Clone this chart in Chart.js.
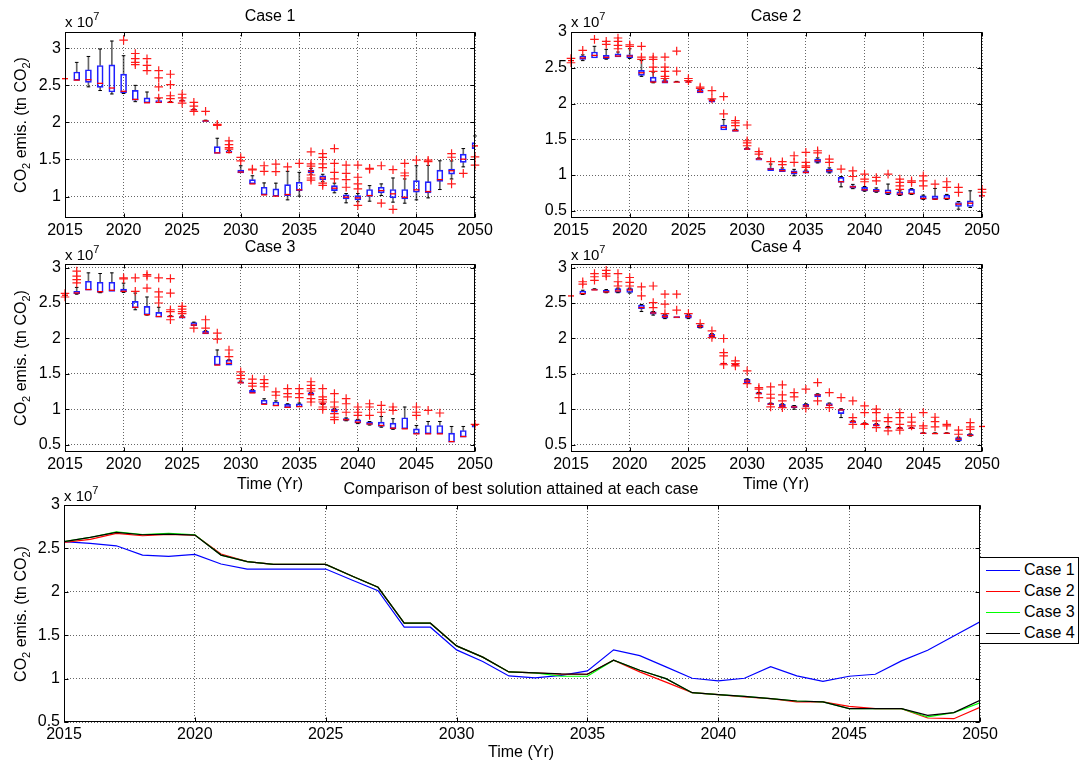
<!DOCTYPE html>
<html><head><meta charset="utf-8">
<script src="https://cdn.jsdelivr.net/npm/chart.js@4/dist/chart.umd.min.js"></script>
<style>
html,body{margin:0;padding:0;background:#fff;}
body{width:1082px;height:762px;position:relative;overflow:hidden;font-family:"Liberation Sans",Arial,Helvetica,sans-serif;color:#000;}
canvas{position:absolute;}
.t{position:absolute;font-size:16px;white-space:nowrap;line-height:1;}
.c{transform:translate(-50%,-50%);}
.yl{transform:translate(-50%,-50%) rotate(-90deg);}
.e{position:absolute;font-size:15px;white-space:nowrap;line-height:1;}
sub{font-size:11px;vertical-align:-4px;line-height:0;}
sup{font-size:11px;vertical-align:7px;line-height:0;}
.lg{position:absolute;left:979px;top:557px;width:100px;height:87px;border:1px solid #000;background:#fff;box-sizing:border-box;}
.ll{position:absolute;height:0;border-top:1px solid;}
.lt{position:absolute;font-size:16px;line-height:1;white-space:nowrap;transform:translateY(-50%);}
</style>
</head><body>
<canvas id="p1"></canvas><canvas id="p2"></canvas><canvas id="p3"></canvas><canvas id="p4"></canvas><canvas id="p5"></canvas>

<div class="t c" style="left:270px;top:16px">Case 1</div>
<div class="t c" style="left:776px;top:16px">Case 2</div>
<div class="t c" style="left:270px;top:247px">Case 3</div>
<div class="t c" style="left:776px;top:247px">Case 4</div>
<div class="t c" style="left:521px;top:489px">Comparison of best solution attained at each case</div>

<div class="e" style="left:65px;top:14px">x 10<sup>7</sup></div>
<div class="e" style="left:571px;top:14px">x 10<sup>7</sup></div>
<div class="e" style="left:65px;top:247px">x 10<sup>7</sup></div>
<div class="e" style="left:571px;top:247px">x 10<sup>7</sup></div>
<div class="e" style="left:64px;top:488px">x 10<sup>7</sup></div>

<div class="t yl" style="left:21px;top:125px">CO<sub>2</sub> emis. (tn CO<sub>2</sub>)</div>
<div class="t yl" style="left:21px;top:358px">CO<sub>2</sub> emis. (tn CO<sub>2</sub>)</div>
<div class="t yl" style="left:21px;top:614px">CO<sub>2</sub> emis. (tn CO<sub>2</sub>)</div>

<div class="t c" style="left:270px;top:484px">Time (Yr)</div>
<div class="t c" style="left:776px;top:484px">Time (Yr)</div>
<div class="t c" style="left:521px;top:752px">Time (Yr)</div>

<div class="lg"></div>
<div class="ll" style="left:986px;top:570px;width:34px;border-color:#0000ff"></div>
<div class="lt" style="left:1024px;top:570px">Case 1</div>
<div class="ll" style="left:986px;top:591px;width:34px;border-color:#ff0000"></div>
<div class="lt" style="left:1024px;top:591px">Case 2</div>
<div class="ll" style="left:986px;top:612px;width:34px;border-color:#00ff00"></div>
<div class="lt" style="left:1024px;top:612px">Case 3</div>
<div class="ll" style="left:986px;top:633px;width:34px;border-color:#000000"></div>
<div class="lt" style="left:1024px;top:633px">Case 4</div>

<script>
// ---------- data (values in units of 1e7 tn CO2) ----------
const years = [2015,2016,2017,2018,2019,2020,2021,2022,2023,2024,2025,2026,2027,2028,2029,2030,2031,2032,
               2033,2034,2035,2036,2037,2038,2039,2040,2041,2042,2043,2044,2045,2046,2047,2048,2049,2050];
const xTickVals = [2015,2020,2025,2030,2035,2040,2045,2050];
const yTicksCase1 = [1,1.5,2,2.5,3];
const yTicksOther = [0.5,1,1.5,2,2.5,3];
const seriesNames = ['Case 1','Case 2','Case 3','Case 4'];

// box stats per year: [lower whisker, q1, median, q3, upper whisker]
const case1Box = [
 [2.59,2.59,2.59,2.59,2.59],[2.567,2.567,2.571,2.68,2.81],[2.48,2.54,2.576,2.71,2.89],[2.43,2.473,2.527,2.768,2.99],
 [2.384,2.41,2.464,2.777,3.098],[2.39,2.397,2.42,2.652,2.90],[2.28,2.30,2.31,2.433,2.50],[2.263,2.263,2.265,2.33,2.41],
 [2.265,2.265,2.27,2.295,2.32],[2.27,2.27,2.27,2.275,2.28],[2.285,2.285,2.29,2.295,2.30],[2.165,2.165,2.17,2.175,2.18],
 [2.01,2.01,2.02,2.025,2.03],[1.58,1.58,1.589,1.674,1.786],[1.594,1.594,1.594,1.616,1.62],[1.317,1.317,1.33,1.357,1.415],
 [1.17,1.17,1.17,1.228,1.28],[1.022,1.022,1.022,1.125,1.183],[1.004,1.004,1.005,1.103,1.18],[0.955,1.013,1.027,1.16,1.34],
 [1.005,1.08,1.09,1.192,1.326],[1.30,1.317,1.34,1.357,1.38],[1.20,1.223,1.25,1.28,1.30],[1.05,1.08,1.112,1.147,1.18],
 [0.915,0.969,0.991,1.022,1.04],[0.93,0.955,0.982,1.013,1.04],[0.937,1.0,1.013,1.094,1.147],[1.013,1.05,1.08,1.125,1.17],
 [0.924,0.982,1.036,1.094,1.25],[0.91,0.969,0.99,1.094,1.237],[0.955,1.058,1.09,1.214,1.415],[0.982,1.05,1.067,1.2,1.42],
 [1.094,1.205,1.228,1.357,1.482],[1.237,1.303,1.348,1.37,1.48],[1.40,1.46,1.504,1.571,1.647],[1.647,1.647,1.683,1.728,1.817]];
const case1Out = [
 [],[],[],[],[],[3.11],[2.93,2.86,2.81,2.78],[2.86,2.77,2.70],[2.70,2.60,2.48,2.33],[2.65,2.51,2.36,2.32],
 [2.38,2.33,2.26],[2.27,2.22,2.15],[2.15],[1.973,1.96],[1.75,1.70,1.66,1.64],[1.527,1.482],[1.37,1.36],[1.415,1.34],
 [1.437,1.335],[1.40],[1.446],[1.603,1.44,1.41,1.29,1.25,1.22],[1.58,1.527,1.44,1.39,1.18,1.15],[1.647,1.446,1.326,1.237],
 [1.424,1.3125,1.228,1.125],[1.424,1.26,1.17,1.103,0.88],[1.38,1.37],[1.415,0.91],[1.362,0.826],[1.446,1.317,1.28],
 [1.49],[1.49,1.47],[],[1.58,1.53,1.17],[1.3125],[1.536,1.424]];

const case2Box = [
 [2.6,2.6,2.6,2.6,2.6],[2.6,2.617,2.636,2.664,2.68],[2.636,2.636,2.673,2.72,2.80],[2.62,2.626,2.645,2.673,2.757],
 [2.65,2.65,2.664,2.696,2.72],[2.63,2.636,2.664,2.682,2.766],[2.38,2.393,2.43,2.463,2.60],[2.29,2.30,2.30,2.369,2.44],
 [2.285,2.285,2.30,2.322,2.33],[2.295,2.295,2.30,2.305,2.31],[2.295,2.295,2.30,2.305,2.31],[2.15,2.15,2.168,2.196,2.20],
 [2.019,2.019,2.04,2.056,2.06],[1.63,1.63,1.668,1.70,1.776],[1.612,1.612,1.62,1.636,1.64],[1.355,1.355,1.364,1.374,1.38],
 [1.21,1.21,1.224,1.234,1.24],[1.061,1.061,1.084,1.098,1.154],[1.047,1.047,1.061,1.084,1.10],[0.99,1.014,1.037,1.061,1.08],
 [1.028,1.028,1.037,1.061,1.07],[1.17,1.178,1.2,1.224,1.24],[1.03,1.037,1.061,1.084,1.10],[0.836,0.897,0.907,0.967,0.98],
 [0.81,0.818,0.836,0.85,0.87],[0.775,0.78,0.794,0.827,0.84],[0.76,0.767,0.78,0.80,0.82],[0.73,0.734,0.757,0.794,0.874],
 [0.715,0.72,0.734,0.767,0.78],[0.73,0.734,0.743,0.80,0.81],[0.66,0.664,0.673,0.71,0.72],[0.66,0.664,0.664,0.71,0.813],
 [0.66,0.664,0.673,0.72,0.73],[0.523,0.561,0.593,0.617,0.63],[0.547,0.561,0.607,0.64,0.78],[0.70,0.70,0.71,0.72,0.72]];
const case2Out = [
 [2.63,2.57],[2.743],[2.897],[2.87,2.827],[2.916,2.87,2.813,2.766],[2.822,2.80],[2.80,2.65,2.617],[2.65,2.617,2.51,2.45],
 [2.65,2.51,2.45,2.38,2.35],[2.734,2.453],[2.35,2.32],[2.23,2.21],[2.18,2.065],[2.098,1.855],[1.762,1.73,1.69],
 [1.70,1.48,1.45,1.41],[1.327,1.294],[1.187],[1.187,1.145],[1.27,1.177],[1.318,1.177,1.13,1.107],[1.34,1.31],
 [1.224,1.178],[1.084],[1.06,0.98],[1.014,0.944,0.907],[0.967,0.92],[1.014],[0.944,0.897,0.85,0.80],[0.92,0.897],
 [0.99,0.92,0.85],[0.874],[0.907,0.827],[0.827,0.757],[],[0.80,0.76]];

const case3Box = [
 [2.61,2.61,2.61,2.61,2.61],[2.625,2.632,2.642,2.665,2.72],[2.68,2.68,2.69,2.807,2.925],[2.645,2.651,2.66,2.793,2.916],
 [2.665,2.665,2.68,2.793,2.925],[2.65,2.656,2.665,2.698,2.78],[2.405,2.43,2.44,2.524,2.64],[2.33,2.335,2.335,2.453,2.585],
 [2.30,2.30,2.31,2.368,2.44],[2.305,2.305,2.31,2.315,2.32],[2.287,2.287,2.30,2.31,2.32],[2.18,2.18,2.19,2.226,2.23],
 [2.065,2.065,2.075,2.10,2.11],[1.625,1.625,1.625,1.753,1.838],[1.625,1.625,1.65,1.696,1.70],[1.37,1.37,1.375,1.39,1.40],
 [1.233,1.233,1.233,1.27,1.28],[1.073,1.073,1.073,1.13,1.15],[1.048,1.048,1.055,1.105,1.12],[1.025,1.025,1.03,1.072,1.08],
 [1.034,1.034,1.04,1.08,1.09],[1.2,1.2,1.21,1.233,1.24],[1.07,1.075,1.08,1.085,1.09],[0.96,0.96,0.987,1.005,1.01],
 [0.84,0.845,0.855,0.87,0.88],[0.80,0.808,0.82,0.855,0.86],[0.78,0.788,0.795,0.82,0.83],[0.75,0.76,0.774,0.82,0.90],
 [0.72,0.727,0.736,0.807,0.87],[0.727,0.727,0.727,0.883,1.034],[0.656,0.656,0.656,0.727,0.774],[0.656,0.656,0.656,0.774,0.83],
 [0.656,0.656,0.656,0.774,0.83],[0.538,0.538,0.547,0.665,0.76],[0.609,0.609,0.618,0.703,0.76],[0.75,0.75,0.78,0.78,0.78]];
const case3Out = [
 [2.635,2.585],[2.95,2.878,2.83,2.783],[],[],[],[2.855,2.84],[2.855,2.665],[2.90,2.878,2.71],[2.855,2.656,2.585,2.50],
 [2.845,2.64,2.405,2.38,2.264],[2.453,2.415,2.38,2.35],[2.145],[2.264,2.145],[2.075,1.99],[1.838,1.743],[1.53,1.48,1.435],
 [1.427,1.366,1.328],[1.42,1.366,1.32],[1.247,1.2],[1.294,1.224,1.176],[1.294,1.224,1.166],[1.39,1.34,1.294,1.26,1.152,1.105],
 [1.294,1.176,1.138,1.105,1.034,1.0],[1.224,1.105,1.034,0.94,0.89,0.855],[1.152,1.08,0.96],[1.034,0.96,0.915],
 [1.08,1.034,0.915],[1.058,0.96],[1.034,0.987],[],[1.034,0.96,0.915],[0.987],[0.95],[],[],[0.79]];

const case4Box = [
 [2.6,2.6,2.6,2.6,2.6],[2.62,2.624,2.633,2.67,2.68],[2.68,2.68,2.685,2.695,2.70],[2.645,2.648,2.657,2.68,2.69],
 [2.645,2.648,2.67,2.704,2.71],[2.64,2.648,2.685,2.704,2.71],[2.38,2.42,2.436,2.47,2.48],[2.33,2.342,2.36,2.375,2.38],
 [2.28,2.286,2.31,2.333,2.34],[2.29,2.29,2.30,2.31,2.31],[2.28,2.286,2.31,2.333,2.34],[2.15,2.154,2.17,2.187,2.19],
 [2.02,2.027,2.04,2.06,2.07],[1.64,1.64,1.647,1.65,1.65],[1.63,1.63,1.63,1.635,1.635],[1.379,1.379,1.40,1.426,1.43],
 [1.214,1.214,1.224,1.238,1.24],[1.064,1.064,1.073,1.087,1.09],[1.036,1.036,1.05,1.073,1.08],[1.003,1.026,1.035,1.05,1.055],
 [1.036,1.036,1.05,1.073,1.08],[1.177,1.177,1.205,1.214,1.22],[1.05,1.05,1.06,1.083,1.09],[0.885,0.942,0.993,1.003,1.01],
 [0.81,0.81,0.829,0.838,0.84],[0.795,0.795,0.80,0.805,0.81],[0.763,0.763,0.775,0.79,0.80],[0.735,0.735,0.745,0.753,0.76],
 [0.73,0.73,0.735,0.74,0.745],[0.73,0.73,0.735,0.74,0.745],[0.66,0.66,0.664,0.669,0.67],[0.655,0.655,0.66,0.665,0.67],
 [0.66,0.66,0.664,0.668,0.67],[0.55,0.556,0.58,0.603,0.61],[0.625,0.627,0.635,0.65,0.655],[0.76,0.76,0.76,0.76,0.76]];
const case4Out = [
 [],[2.80,2.765],[2.915,2.87,2.82],[2.96,2.915,2.88],[2.915,2.80,2.74],[2.86,2.79,2.74],[2.727,2.60],[2.74,2.506,2.436],
 [2.624,2.483,2.35],[2.624,2.40],[2.35],[2.21],[2.107,2.013],[2.0,1.80,1.755,1.63],[1.684,1.647,1.614],[1.543,1.365],
 [1.308,1.285,1.167],[1.318,1.214,1.158,1.036],[1.346,1.205,1.12,1.026],[1.238,1.177],[1.285,1.017],[1.379,1.12],
 [1.238,1.026],[1.167],[1.12,0.885,0.79],[1.05,0.956,0.79],[1.003,0.956,0.838,0.744],[0.885,0.829,0.697],
 [0.956,0.885,0.79,0.707],[0.89,0.82,0.767],[0.956,0.767,0.735],[0.89,0.829,0.754],[0.79,0.767],[0.707,0.65],
 [0.815,0.754,0.72],[]];

// best solution per case
const best1 = [2.577,2.557,2.53,2.423,2.408,2.43,2.32,2.262,2.262,2.262,2.262,2.136,2.013,1.592,1.592,1.331,1.197,1.031,
               1.008,1.038,1.088,1.331,1.265,1.135,1.004,0.973,1.004,1.138,1.031,0.969,1.027,1.05,1.204,1.327,1.49,1.655];
const best2 = [2.569,2.603,2.672,2.646,2.66,2.653,2.435,2.347,2.316,2.316,2.316,2.182,2.052,1.638,1.638,1.377,1.247,1.077,
               1.065,1.05,1.05,1.212,1.077,0.96,0.838,0.815,0.788,0.769,0.731,0.731,0.681,0.654,0.654,0.546,0.538,0.67];
const best3 = [2.577,2.626,2.69,2.66,2.672,2.657,2.423,2.347,2.316,2.316,2.316,2.182,2.052,1.638,1.638,1.377,1.247,1.077,
               1.065,1.027,1.027,1.212,1.096,1.0,0.838,0.815,0.796,0.769,0.742,0.731,0.654,0.654,0.654,0.558,0.608,0.72];
const best4 = [2.577,2.626,2.684,2.657,2.665,2.653,2.423,2.347,2.316,2.316,2.316,2.182,2.052,1.638,1.638,1.377,1.247,1.077,
               1.065,1.054,1.05,1.212,1.096,1.0,0.838,0.815,0.796,0.769,0.742,0.731,0.654,0.654,0.654,0.577,0.608,0.75];

// ---------- rendering ----------
Chart.defaults.font.family = '"Liberation Sans", Arial, Helvetica, sans-serif';
Chart.defaults.font.size = 16;
Chart.defaults.color = '#000';
Chart.defaults.animation = false;

const frame = {
  id: 'frame',
  afterDraw(chart) {
    const {ctx, chartArea: a, scales} = chart;
    const L = Math.round(a.left) + 0.5, T = Math.round(a.top) + 0.5;
    const R = Math.round(a.right) - 0.5, B = Math.round(a.bottom) - 0.5;
    ctx.save();
    ctx.strokeStyle = '#000'; ctx.lineWidth = 1;
    ctx.strokeRect(L, T, R - L, B - T);
    ctx.beginPath();
    scales.x.ticks.forEach(t => {
      const x = Math.round(scales.x.getPixelForValue(t.value)) + 0.5;
      ctx.moveTo(x, B); ctx.lineTo(x, B - 4); ctx.moveTo(x, T); ctx.lineTo(x, T + 4);
    });
    scales.y.ticks.forEach(t => {
      const y = Math.round(scales.y.getPixelForValue(t.value)) + 0.5;
      ctx.moveTo(L, y); ctx.lineTo(L + 4, y); ctx.moveTo(R, y); ctx.lineTo(R - 4, y);
    });
    ctx.stroke();
    ctx.restore();
  }
};

const PADL = 64, PADT = 14, PADR = 40, PADB = 34;

function scalesFor(yMin, yMax, yTicks) {
  const gridCommon = {color: 'rgba(0,0,0,0.6)', lineWidth: 1, drawTicks: false, offset: false};
  return {
    x: {
      type: 'linear', min: 2015, max: 2050, offset: false,
      grid: gridCommon, border: {display: false, dash: [1, 2]},
      afterBuildTicks: s => { s.ticks = xTickVals.map(v => ({value: v})); },
      afterFit: s => { s.height = PADB; },
      ticks: {autoSkip: false, maxRotation: 0, padding: 3, callback: v => String(v)}
    },
    y: {
      type: 'linear', min: yMin, max: yMax,
      grid: gridCommon, border: {display: false, dash: [1, 2]},
      afterBuildTicks: s => { s.ticks = yTicks.map(v => ({value: v})); },
      afterFit: s => { s.width = PADL; },
      ticks: {padding: 4, callback: v => String(v)}
    }
  };
}

function place(id, box) {
  const c = document.getElementById(id);
  const w = box.r - box.l + PADL + PADR, h = box.b - box.t + PADT + PADB;
  c.width = w; c.height = h;
  c.style.width = w + 'px'; c.style.height = h + 'px';
  c.style.left = (box.l - PADL) + 'px'; c.style.top = (box.t - PADT) + 'px';
  return c;
}

function boxDatasets(boxes, outs) {
  const med = [], box = [], wUp = [], wLo = [], caps = [], out = [];
  years.forEach((yr, i) => {
    const [lo, q1, md, q3, hi] = boxes[i];
    box.push({x: yr, y: [q1, q3]});
    med.push({x: yr, y: md});
    if (hi > q3) { wUp.push({x: yr, y: [q3, hi]}); caps.push({x: yr, y: hi}); }
    if (lo < q1) { wLo.push({x: yr, y: [lo, q1]}); caps.push({x: yr, y: lo}); }
    outs[i].forEach(v => out.push({x: yr, y: v}));
  });
  return [
    {type: 'scatter', data: med, pointStyle: 'line', pointRadius: 3, pointHoverRadius: 3,
     borderColor: '#ff0000', pointBorderWidth: 1.3, clip: false},
    {type: 'scatter', data: out, pointStyle: 'cross', pointRadius: 4.3, pointHoverRadius: 4.3,
     borderColor: '#ff1a1a', pointBorderWidth: 1.2, clip: false},
    {type: 'scatter', data: caps, pointStyle: 'line', pointRadius: 1.8, pointHoverRadius: 1.8,
     borderColor: '#000', pointBorderWidth: 1, clip: false},
    {type: 'bar', data: box, barThickness: 6, backgroundColor: 'rgba(0,0,0,0)', borderColor: '#1f1fff',
     borderWidth: 1, borderSkipped: false, grouped: false},
    {type: 'bar', data: wUp, barThickness: 1, backgroundColor: 'rgba(0,0,0,0.6)', borderWidth: 0, grouped: false},
    {type: 'bar', data: wLo, barThickness: 1, backgroundColor: 'rgba(0,0,0,0.6)', borderWidth: 0, grouped: false}
  ];
}

function boxPanel(id, box, yMin, yMax, yTicks, boxes, outs) {
  const c = place(id, box);
  new Chart(c, {
    type: 'bar',
    data: {datasets: boxDatasets(boxes, outs)},
    options: {
      responsive: false, animation: false, events: [],
      layout: {padding: {left: 0, top: PADT, right: PADR, bottom: 0}},
      plugins: {legend: {display: false}, tooltip: {enabled: false}},
      scales: scalesFor(yMin, yMax, yTicks)
    },
    plugins: [frame]
  });
}

boxPanel('p1', {l: 65, t: 32, r: 475, b: 218}, 0.71, 3.22, yTicksCase1, case1Box, case1Out);
boxPanel('p2', {l: 571, t: 32, r: 982, b: 218}, 0.4, 3.0, yTicksOther, case2Box, case2Out);
boxPanel('p3', {l: 65, t: 264, r: 475, b: 452}, 0.4, 3.05, yTicksOther, case3Box, case3Out);
boxPanel('p4', {l: 571, t: 264, r: 982, b: 452}, 0.4, 3.05, yTicksOther, case4Box, case4Out);

// comparison line chart
const bestSeries = [best1, best2, best3, best4];
const bestColors = ['#0000ff', '#ff0000', '#00ff00', '#000000'];
const c5 = place('p5', {l: 64, t: 505, r: 980, b: 722});
new Chart(c5, {
  type: 'line',
  data: {
    datasets: bestSeries.map((s, k) => ({
      label: seriesNames[k],
      data: years.map((yr, i) => ({x: yr, y: s[i]})),
      borderColor: bestColors[k], borderWidth: 1.2, pointRadius: 0, tension: 0,
      fill: false, order: 4 - k
    }))
  },
  options: {
    responsive: false, animation: false, events: [],
    layout: {padding: {left: 0, top: PADT, right: PADR, bottom: 0}},
    plugins: {legend: {display: false}, tooltip: {enabled: false}},
    scales: scalesFor(0.5, 3.0, yTicksOther)
  },
  plugins: [frame]
});
</script>
</body></html>
